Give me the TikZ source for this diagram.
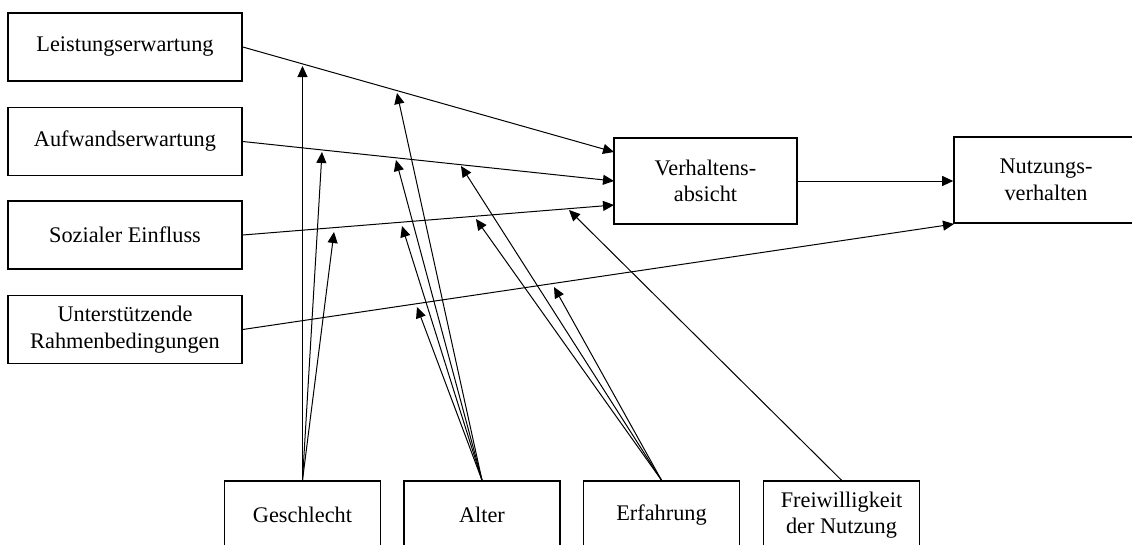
\documentclass[tikz,border=0pt]{standalone}
\usepackage{fontspec}
\setmainfont{Liberation Serif}
\usetikzlibrary{arrows.meta}
\tikzset{
  box/.style={draw, line width=1.6pt, align=center, inner sep=2pt,
    font=\fontsize{22.3}{26.5}\selectfont},
  lbox/.style={box, minimum width=234pt, minimum height=68pt},
  cbox/.style={box, minimum width=156pt, minimum height=68pt},
  bbox/.style={box, minimum width=183pt, minimum height=86pt},
  arr/.style={line width=1pt, -{Triangle[length=11pt,width=10pt]}}
}
\begin{document}
\begin{tikzpicture}[x=1pt,y=-1pt]
\clip (0,0) rectangle (1132,544);
\fill[white] (0,0) rectangle (1132,544);
% left column
\node[lbox] (L) at (125,47) {Leistungserwartung};
\node[lbox] (A) at (125,141.5) {Aufwandserwartung};
\node[lbox] (S) at (125,235) {Sozialer Einfluss};
\node[lbox] (U) at (125,329.5) {Unterstützende\\Rahmenbedingungen};
% right
\node[bbox] (V) at (705.5,181) {Verhaltens-\\absicht};
\node[bbox, minimum width=184pt] (N) at (1046,180) {Nutzungs-\\verhalten};
% bottom
\node[cbox] (G) at (302.5,515) {Geschlecht};
\node[cbox] (Al) at (482,515) {Alter};
\node[cbox] (E) at (661.5,515) {Erfahrung};
\node[cbox] (F) at (841.5,515) {Freiwilligkeit\\der Nutzung};
% main paths
\coordinate (v1) at (614,152);
\coordinate (v2) at (614,181);
\coordinate (v3) at (614,205);
\coordinate (n1) at (954,224);
\draw[arr] (L.east) -- (v1);
\draw[arr] (A.east) -- (v2);
\draw[arr] (S.east) -- (v3);
\draw[arr] (U.east) -- (n1);
\draw[arr] (V.east) -- (N.west |- V.east);
% moderator tips
\coordinate (g1) at (302.5,66);
\coordinate (g2) at (322,152);
\coordinate (g3) at (334,232);
\coordinate (a1) at (397,93);
\coordinate (a2) at (396,160);
\coordinate (a3) at (402,226);
\coordinate (a4) at (417,307);
\coordinate (e1) at (461,166);
\coordinate (e2) at (476,219);
\coordinate (e3) at (554,287);
\coordinate (f1) at (569,210);
\draw[arr] (G.north) -- (g1);
\draw[arr] (G.north) -- (g2);
\draw[arr] (G.north) -- (g3);
\draw[arr] (Al.north) -- (a1);
\draw[arr] (Al.north) -- (a2);
\draw[arr] (Al.north) -- (a3);
\draw[arr] (Al.north) -- (a4);
\draw[arr] (E.north) -- (e1);
\draw[arr] (E.north) -- (e2);
\draw[arr] (E.north) -- (e3);
\draw[arr] (F.north) -- (f1);
\end{tikzpicture}
\end{document}
